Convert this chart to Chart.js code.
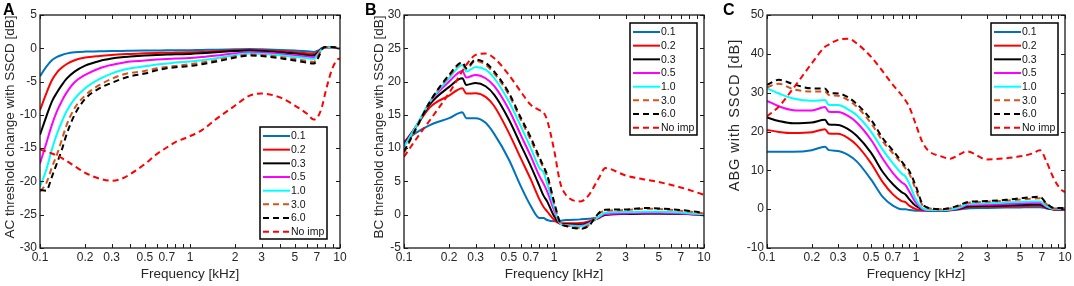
<!DOCTYPE html>
<html><head><meta charset="utf-8">
<script src="https://cdn.jsdelivr.net/npm/chart.js@4.4.1/dist/chart.umd.min.js"></script>
<style>
html,body{margin:0;padding:0;background:#fff;}
#wrap{position:relative;width:1074px;height:286px;overflow:hidden;background:#fff;}
canvas{position:absolute;top:0;}
</style></head><body>
<div id="wrap">
<canvas id="cA" width="358" height="286" style="left:0px;width:358px;height:286px"></canvas>
<canvas id="cB" width="358" height="286" style="left:358px;width:358px;height:286px"></canvas>
<canvas id="cC" width="358" height="286" style="left:716px;width:358px;height:286px"></canvas>
</div>
<script>
// ---------------- DATA ----------------
const SERIES_LABELS = ['0.1', '0.2', '0.3', '0.5', '1.0', '3.0', '6.0', 'No imp'];

const X_TICKS = [0.1, 0.2, 0.3, 0.4, 0.5, 0.6, 0.7, 0.8, 0.9, 1, 2, 3, 4, 5, 6, 7, 8, 9, 10];
const X_TICK_LABELS = [0.1, 0.2, 0.3, 0.5, 0.7, 1, 2, 3, 5, 7, 10];

const Y_TICKS_A = [-30, -25, -20, -15, -10, -5, 0, 5];
const Y_TICKS_B = [-5, 0, 5, 10, 15, 20, 25, 30];
const Y_TICKS_C = [-10, 0, 10, 20, 30, 40, 50];

// Panel A: AC threshold change
const FREQ_A = [0.1, 0.11, 0.12, 0.13, 0.14, 0.15, 0.17, 0.2, 0.25, 0.3, 0.35, 0.4, 0.5, 0.6, 0.7, 0.8, 1.0, 1.2, 1.5, 2.0, 2.5, 3.0, 4.0, 5.0, 6.0, 6.7, 7.2, 7.6, 8.0, 8.8, 9.5, 10];
const AC_01 = [-4.2, -2.8, -1.8, -1.3, -1.0, -0.8, -0.6, -0.5, -0.45, -0.4, -0.4, -0.38, -0.35, -0.33, -0.3, -0.3, -0.28, -0.25, -0.22, -0.15, -0.1, -0.15, -0.25, -0.35, -0.45, -0.55, -0.3, 0.05, 0.15, 0.15, 0.05, 0];
const AC_02 = [-9.3, -6.8, -4.8, -3.6, -2.9, -2.4, -1.8, -1.4, -1.15, -1.0, -0.9, -0.85, -0.75, -0.7, -0.68, -0.65, -0.6, -0.55, -0.45, -0.3, -0.25, -0.3, -0.45, -0.6, -0.75, -0.85, -0.45, 0.0, 0.15, 0.15, 0.05, 0];
const AC_03 = [-13.0, -10.3, -8.0, -6.6, -5.5, -4.6, -3.5, -2.6, -1.9, -1.55, -1.35, -1.25, -1.1, -1.0, -0.95, -0.9, -0.85, -0.75, -0.6, -0.4, -0.35, -0.4, -0.6, -0.8, -1.0, -1.1, -0.55, -0.05, 0.15, 0.15, 0.05, 0];
const AC_05 = [-17.3, -14.3, -11.5, -9.4, -7.9, -6.7, -5.1, -4.0, -3.0, -2.5, -2.2, -2.0, -1.85, -1.7, -1.6, -1.55, -1.45, -1.3, -1.1, -0.75, -0.6, -0.65, -0.85, -1.05, -1.25, -1.35, -0.7, -0.1, 0.15, 0.15, 0.05, 0];
const AC_10 = [-20.8, -18.3, -15.2, -12.8, -11.0, -9.5, -7.6, -6.0, -4.6, -3.8, -3.3, -3.0, -2.7, -2.45, -2.3, -2.15, -2.0, -1.8, -1.5, -1.0, -0.8, -0.85, -1.05, -1.3, -1.5, -1.6, -0.8, -0.1, 0.15, 0.15, 0.05, 0];
const AC_30 = [-21.5, -20.3, -17.9, -15.9, -13.7, -11.6, -9.0, -7.1, -5.5, -4.6, -4.0, -3.7, -3.4, -3.0, -2.8, -2.65, -2.4, -2.15, -1.8, -1.2, -0.95, -1.0, -1.3, -1.6, -1.9, -2.05, -1.0, -0.1, 0.15, 0.15, 0.05, 0];
const AC_60 = [-21.3, -21.4, -19.3, -17.2, -15.2, -13.0, -10.0, -7.6, -6.0, -5.2, -4.6, -4.2, -3.8, -3.3, -3.0, -2.85, -2.65, -2.4, -2.0, -1.4, -1.1, -1.15, -1.5, -1.85, -2.15, -2.3, -1.3, -0.1, 0.2, 0.2, 0.1, 0.05];
const AC_NOIMP = [-15.2, -15.5, -15.8, -16.1, -16.5, -16.9, -17.7, -18.7, -19.6, -19.9, -19.6, -18.9, -17.4, -15.9, -14.9, -14.1, -13.2, -12.3, -10.6, -8.6, -7.1, -6.8, -7.4, -8.6, -9.8, -10.7, -10.1, -8.7, -6.6, -3.3, -1.8, -1.5];

// Panel B: BC threshold change
const FREQ_B = [0.1, 0.12, 0.15, 0.2, 0.245, 0.26, 0.3, 0.35, 0.4, 0.5, 0.6, 0.7, 0.8, 0.85, 0.9, 1.0, 1.1, 1.2, 1.5, 1.7, 2.0, 2.2, 3.0, 4.0, 5.0, 7.0, 10];
const BC_01 = [11.0, 12.3, 13.5, 14.5, 15.4, 14.5, 14.5, 13.8, 12.1, 8.3, 4.3, 1.3, -0.5, -0.5, -0.8, -1.0, -0.9, -0.8, -0.7, -0.6, -0.35, 0.2, 0.3, 0.35, 0.35, 0.25, -0.1];
const BC_02 = [10.8, 13.2, 16.2, 17.9, 19.0, 18.2, 18.25, 17.7, 16.3, 12.3, 8.5, 5.3, 2.3, 1.2, 0.5, -0.75, -1.3, -1.3, -1.25, -1.0, -0.5, 0.0, 0.1, 0.2, 0.2, 0.15, -0.05];
const BC_03 = [10.5, 13.2, 16.7, 19.2, 20.5, 19.5, 19.8, 19.3, 18.0, 14.3, 10.5, 7.3, 4.3, 2.9, 2.0, -0.2, -1.35, -1.45, -1.5, -1.2, -0.4, 0.0, 0.1, 0.2, 0.2, 0.15, 0];
const BC_05 = [10.3, 13.2, 17.0, 20.0, 21.6, 20.6, 21.0, 20.5, 19.3, 15.8, 12.0, 8.8, 5.8, 4.7, 3.5, 0.7, -1.35, -1.55, -1.65, -1.3, -0.35, 0.1, 0.2, 0.3, 0.3, 0.2, 0];
const BC_10 = [10.2, 13.2, 17.1, 20.5, 22.5, 21.5, 22.2, 21.8, 20.5, 17.0, 13.3, 10.0, 7.0, 6.4, 4.7, 1.2, -1.35, -1.6, -1.75, -1.4, -0.25, 0.3, 0.4, 0.45, 0.45, 0.35, 0];
const BC_30 = [9.3, 12.8, 17.1, 20.8, 22.8, 21.9, 23.1, 22.5, 21.2, 18.0, 14.3, 11.2, 8.3, 7.0, 5.8, 1.8, -1.2, -1.6, -2.0, -1.6, 0.2, 0.6, 0.7, 0.9, 0.85, 0.6, 0.2];
const BC_60 = [9.5, 12.9, 17.1, 21.0, 22.9, 22.0, 23.3, 22.8, 21.5, 18.3, 14.6, 11.6, 8.6, 7.3, 6.0, 2.0, -1.2, -1.7, -2.1, -1.7, 0.3, 0.75, 0.8, 1.0, 0.95, 0.7, 0.3];
const BC_NOIMP = [8.7, 11.3, 14.3, 18.3, 21.6, 22.5, 24.0, 24.2, 23.5, 21.0, 18.5, 16.5, 15.7, 15.4, 14.2, 9.8, 4.8, 3.0, 2.0, 2.9, 5.6, 7.0, 5.9, 5.3, 4.9, 4.1, 3.0];

// Panel C: ABG
const FREQ_C = [0.1, 0.12, 0.15, 0.2, 0.245, 0.26, 0.3, 0.35, 0.4, 0.5, 0.6, 0.7, 0.8, 0.85, 0.9, 1.0, 1.1, 1.2, 1.5, 1.7, 2.0, 2.2, 3.0, 4.0, 5.0, 6.0, 6.8, 7.5, 8.5, 9.5, 10];
const ABG_01 = [14.8, 14.8, 14.8, 15.2, 16.1, 15.2, 15.0, 14.0, 12.3, 7.6, 3.1, 0.9, 0.0, 0.0, -0.2, -0.4, -0.4, -0.4, -0.4, -0.3, 0.0, 0.2, 0.3, 0.4, 0.45, 0.5, 0.5, 0.2, -0.1, -0.1, -0.1];
const ABG_02 = [20.4, 19.9, 19.6, 19.8, 20.6, 19.5, 19.4, 18.3, 16.5, 11.8, 6.9, 3.8, 2.1, 1.8, 0.9, 0.0, -0.3, -0.35, -0.35, -0.25, 0.1, 0.5, 0.6, 0.7, 0.8, 0.9, 0.9, 0.3, -0.1, -0.1, -0.1];
const ABG_03 = [23.6, 22.7, 22.1, 22.3, 23.0, 21.8, 21.7, 20.6, 18.9, 14.5, 9.5, 6.4, 4.4, 3.8, 2.6, 0.8, 0.0, -0.3, -0.35, -0.2, 0.2, 0.7, 0.8, 0.95, 1.05, 1.2, 1.2, 0.4, -0.1, -0.1, -0.1];
const ABG_05 = [27.9, 26.5, 25.5, 25.4, 26.3, 25.1, 25.0, 24.0, 22.3, 17.8, 12.9, 9.3, 6.9, 6.2, 4.6, 1.6, 0.1, -0.3, -0.3, -0.2, 0.4, 1.0, 1.15, 1.3, 1.45, 1.6, 1.6, 0.6, 0.0, 0.0, 0.0];
const ABG_10 = [31.1, 29.8, 28.5, 27.9, 28.1, 26.8, 26.8, 25.7, 24.2, 19.9, 15.2, 11.8, 9.2, 8.4, 6.6, 2.4, 0.3, -0.2, -0.25, -0.1, 0.6, 1.3, 1.5, 1.7, 1.85, 2.0, 2.0, 0.8, 0.1, 0.1, 0.1];
const ABG_30 = [31.4, 32.3, 30.9, 30.3, 30.3, 29.4, 29.2, 28.1, 26.4, 22.1, 17.4, 14.4, 11.8, 10.5, 9.2, 4.9, 1.1, 0.3, 0.0, 0.2, 1.0, 1.6, 1.9, 2.2, 2.5, 2.7, 2.8, 1.3, 0.2, 0.2, 0.2];
const ABG_60 = [32.0, 33.3, 32.2, 31.1, 31.1, 30.0, 29.8, 28.8, 27.1, 23.0, 18.2, 15.1, 12.3, 11.0, 9.9, 5.8, 1.5, 0.4, 0.0, 0.3, 1.2, 1.8, 2.1, 2.4, 2.8, 3.1, 3.2, 1.5, 0.3, 0.3, 0.3];
const ABG_NOIMP = [23.9, 26.4, 31.1, 37.6, 41.8, 42.4, 43.6, 43.9, 42.7, 39.2, 35.4, 32.0, 29.4, 28.0, 26.4, 21.7, 17.4, 15.2, 13.5, 13.0, 14.3, 14.9, 12.8, 13.1, 13.6, 14.3, 15.2, 12.3, 7.5, 4.9, 4.4];

// ---------------- STYLE ----------------
const STYLES = [
  {color: '#0072BD', dash: []},
  {color: '#FF0000', dash: []},
  {color: '#000000', dash: []},
  {color: '#FF00FF', dash: []},
  {color: '#00FFFF', dash: []},
  {color: '#D95319', dash: [6, 4]},
  {color: '#000000', dash: [6, 4]},
  {color: '#FF0000', dash: [6, 4]}
];
const FONT = "'Liberation Sans', Arial, sans-serif";
const TEXT = '#262626';

const PANELS = [
  {id: 'cA', letter: 'A', yTitle: 'AC threshold change with SSCD [dB]', freq: FREQ_A,
   series: [AC_01, AC_02, AC_03, AC_05, AC_10, AC_30, AC_60, AC_NOIMP],
   yMin: -30, yMax: 5, yTicks: Y_TICKS_A, yAxisW: 40, padRight: 18,
   yTitleX: 10, yTitleY: 127, yTitleSize: 13.5, yTitleSpacing: 0,
   letterX: 3, legendDX: -80, legendDY: null, legendBottom: 9},
  {id: 'cB', letter: 'B', yTitle: 'BC threshold change with SSCD [dB]', freq: FREQ_B,
   series: [BC_01, BC_02, BC_03, BC_05, BC_10, BC_30, BC_60, BC_NOIMP],
   yMin: -5, yMax: 30, yTicks: Y_TICKS_B, yAxisW: 46, padRight: 12,
   yTitleX: 21, yTitleY: 127, yTitleSize: 13.5, yTitleSpacing: 0,
   letterX: 7, legendDX: -74, legendDY: 8},
  {id: 'cC', letter: 'C', yTitle: 'ABG with SSCD [dB]', freq: FREQ_C,
   series: [ABG_01, ABG_02, ABG_03, ABG_05, ABG_10, ABG_30, ABG_60, ABG_NOIMP],
   yMin: -10, yMax: 50, yTicks: Y_TICKS_C, yAxisW: 51, padRight: 9,
   yTitleX: 19, yTitleY: 115, yTitleSize: 14.5, yTitleSpacing: 1,
   letterX: 7, legendDX: -74, legendDY: 8}
];

const LEG_W = 67, LEG_H = 112, LEG_ROW = 13.67;

const framePlugin = {
  id: 'frame',
  afterDatasetsDraw(chart) {
    const {ctx, chartArea: ca, scales: {x, y}} = chart;
    ctx.save();
    ctx.strokeStyle = '#1a1a1a';
    ctx.lineWidth = 1;
    ctx.beginPath();
    x.ticks.forEach(t => {
      const px = Math.round(x.getPixelForValue(t.value)) + 0.5;
      const L = 4;
      ctx.moveTo(px, ca.bottom); ctx.lineTo(px, ca.bottom - L);
      ctx.moveTo(px, ca.top); ctx.lineTo(px, ca.top + L);
    });
    y.ticks.forEach(t => {
      const py = Math.round(y.getPixelForValue(t.value)) + 0.5;
      const L = 4;
      ctx.moveTo(ca.left, py); ctx.lineTo(ca.left + L, py);
      ctx.moveTo(ca.right, py); ctx.lineTo(ca.right - L, py);
    });
    ctx.stroke();
    ctx.lineWidth = 1.3;
    ctx.strokeRect(ca.left, ca.top, ca.right - ca.left, ca.bottom - ca.top);
    ctx.restore();
  },
  afterDraw(chart) {
    const {ctx, chartArea: ca} = chart;
    const p = chart.options.plugins.frame;
    ctx.save();
    // panel letter
    ctx.fillStyle = '#000';
    ctx.font = "bold 16px " + FONT;
    ctx.textAlign = 'left';
    ctx.textBaseline = 'alphabetic';
    ctx.fillText(p.letter, p.letterX, 15);
    // y title
    ctx.fillStyle = TEXT;
    ctx.font = p.yTitleSize + "px " + FONT;
    if ('letterSpacing' in ctx) ctx.letterSpacing = p.yTitleSpacing + 'px';
    ctx.translate(p.yTitleX, p.yTitleY);
    ctx.rotate(-Math.PI / 2);
    ctx.textAlign = 'center';
    ctx.textBaseline = 'middle';
    ctx.fillText(p.yTitle, 0, 0);
    ctx.restore();
    // legend
    ctx.save();
    const lx = ca.right + p.legendDX;
    const ly = p.legendDY !== null ? ca.top + p.legendDY : ca.bottom - p.legendBottom - LEG_H;
    ctx.fillStyle = '#fff';
    ctx.fillRect(lx, ly, LEG_W, LEG_H);
    ctx.strokeStyle = '#000';
    ctx.lineWidth = 1.5;
    ctx.strokeRect(lx, ly, LEG_W, LEG_H);
    ctx.font = "10.5px " + FONT;
    ctx.textBaseline = 'middle';
    ctx.textAlign = 'left';
    chart.data.datasets.forEach((ds, i) => {
      const cy = ly + 9 + i * LEG_ROW;
      ctx.strokeStyle = ds.borderColor;
      ctx.lineWidth = ds.borderWidth;
      ctx.setLineDash(ds.borderDash || []);
      ctx.beginPath();
      ctx.moveTo(lx + 3, cy);
      ctx.lineTo(lx + 30, cy);
      ctx.stroke();
      ctx.setLineDash([]);
      ctx.fillStyle = '#111';
      ctx.fillText(ds.label, lx + 31, cy + 0.5);
    });
    ctx.restore();
  }
};

function fmtY(v) { return String(v); }

PANELS.forEach(p => {
  const datasets = p.series.map((vals, i) => ({
    label: SERIES_LABELS[i],
    data: p.freq.map((f, k) => ({x: f, y: vals[k]})),
    borderColor: STYLES[i].color,
    backgroundColor: STYLES[i].color,
    borderWidth: 2,
    borderDash: STYLES[i].dash,
    pointRadius: 0,
    fill: false,
    cubicInterpolationMode: 'monotone',
    order: SERIES_LABELS.length - i
  }));
  new Chart(document.getElementById(p.id), {
    type: 'line',
    data: {datasets},
    plugins: [framePlugin],
    options: {
      responsive: false,
      animation: false,
      devicePixelRatio: 1,
      events: [],
      layout: {padding: {left: 0, right: p.padRight, top: 15, bottom: 0}},
      plugins: {
        legend: {display: false},
        tooltip: {enabled: false},
        frame: p
      },
      scales: {
        x: {
          type: 'logarithmic',
          min: 0.1, max: 10,
          afterBuildTicks: s => { s.ticks = X_TICKS.map(v => ({value: v})); },
          afterFit: s => { s.height = 38; },
          grid: {display: false, drawTicks: false},
          border: {display: false},
          ticks: {
            autoSkip: false, maxRotation: 0, padding: 2,
            color: TEXT, font: {family: FONT, size: 12},
            callback: v => X_TICK_LABELS.includes(v) ? String(v) : ''
          },
          title: {display: true, text: 'Frequency [kHz]', color: TEXT,
                  font: {family: FONT, size: 13.5}, padding: {top: 0, bottom: 4}}
        },
        y: {
          type: 'linear',
          min: p.yMin, max: p.yMax,
          afterBuildTicks: s => { s.ticks = p.yTicks.map(v => ({value: v})); },
          afterFit: s => { s.width = p.yAxisW; },
          grid: {display: false, drawTicks: false},
          border: {display: false},
          ticks: {padding: 3, color: TEXT, font: {family: FONT, size: 12}, callback: fmtY}
        }
      }
    }
  });
});
</script>
</body></html>
